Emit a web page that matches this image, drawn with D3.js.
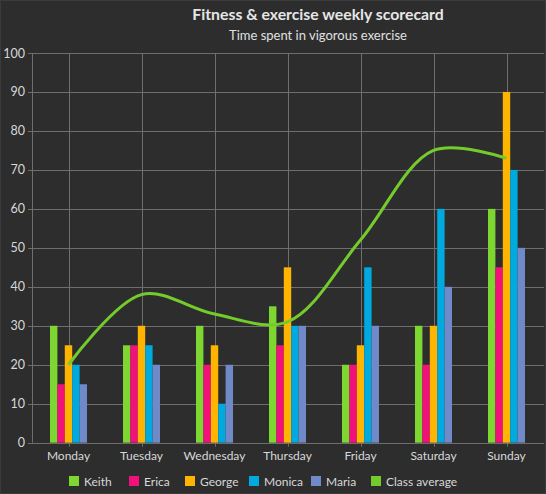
<!DOCTYPE html>
<html><head><meta charset="utf-8">
<script src="https://cdn.jsdelivr.net/npm/d3@7"></script>
<style>
html,body{margin:0;padding:0;background:#2d2d2d;}
svg{display:block;font-family:Lato,"Noto Sans",sans-serif;}
</style></head><body>
<svg id="c" width="546" height="494"></svg>
<script>
const days = ["Monday","Tuesday","Wednesday","Thursday","Friday","Saturday","Sunday"];
const seriesNames = ["Keith","Erica","George","Monica","Maria"];
const keith  = [30,25,30,35,20,30,60];
const erica  = [15,25,20,25,20,20,45];
const george = [25,30,25,45,25,30,90];
const monica = [20,25,10,30,45,60,70];
const maria  = [15,20,20,30,30,40,50];
const classAverage = [20,38,33,31,52,75,73];
const yTicks = [0,10,20,30,40,50,60,70,80,90,100];
const colors = ["#7ed631","#f2117b","#ffb400","#00a9de","#7089c9"];
const lineColor = "#74cb2c";
const seriesValues = [keith, erica, george, monica, maria];

(function(){
const svg = d3.select("#c");
svg.append("rect").attr("x",0.5).attr("y",0.5).attr("width",545).attr("height",493)
  .attr("fill","#2d2d2d").attr("stroke","#3b3b3b");

const pL = 32, pR = 543, pT = 53, pB = 442.7;
const x = d3.scaleBand().domain(days).range([pL,pR]);
const y = d3.scaleLinear().domain([0,100]).range([pB,pT]);
const inner = d3.scaleBand().domain(seriesNames).range([-18.5,18.5]);
const cx = d => x(d)+x.bandwidth()/2;

// gridlines
const g = svg.append("g");
g.selectAll(".hg").data(yTicks).join("line")
  .attr("x1",pL-4).attr("x2",pR+1)
  .attr("y1",d=>Math.round(y(d))+0.5).attr("y2",d=>Math.round(y(d))+0.5)
  .attr("stroke","#6e6e6e").attr("stroke-width",1);
g.selectAll(".vg").data(days).join("line")
  .attr("x1",d=>Math.round(cx(d))+0.5).attr("x2",d=>Math.round(cx(d))+0.5)
  .attr("y1",pT).attr("y2",pB+4)
  .attr("stroke","#6e6e6e").attr("stroke-width",1);
g.append("line").attr("x1",pL+0.5).attr("x2",pL+0.5).attr("y1",pT).attr("y2",pB)
  .attr("stroke","#6e6e6e");

// y labels
svg.selectAll(".yl").data(yTicks).join("text")
  .attr("x",25).attr("y",d=>y(d)+4.5).attr("text-anchor","end")
  .attr("font-size",12.5).attr("fill","#d8d8d8").text(d=>d);

// x labels
svg.selectAll(".xl").data(days).join("text")
  .attr("x",d=>cx(d)).attr("y",460).attr("text-anchor","middle")
  .attr("font-size",12).attr("fill","#d8d8d8").text(d=>d);

// bars
seriesNames.forEach((name,i)=>{
  svg.append("g").selectAll("rect").data(seriesValues[i]).join("rect")
    .attr("x",(d,j)=>cx(days[j])+inner(name))
    .attr("width",inner.bandwidth())
    .attr("y",d=>y(d)).attr("height",d=>y(0)-y(d))
    .attr("fill",colors[i]);
});

// class average line
const line = d3.line()
  .x((d,j)=>cx(days[j]))
  .y(d=>y(d))
  .curve(d3.curveCatmullRom.alpha(0.5));
svg.append("path").datum(classAverage).attr("d",line)
  .attr("fill","none").attr("stroke",lineColor).attr("stroke-width",3);

// titles
svg.append("text").attr("x",318).attr("y",20).attr("text-anchor","middle")
  .attr("font-size",15.8).attr("font-weight","bold").attr("fill","#e6e6e6")
  .text("Fitness & exercise weekly scorecard");
svg.append("text").attr("x",318).attr("y",40).attr("text-anchor","middle")
  .attr("font-size",13).attr("fill","#e0e0e0")
  .text("Time spent in vigorous exercise");

// legend
const legendItems = seriesNames.map((n,i)=>({name:n,color:colors[i]})).concat([{name:"Class average",color:lineColor}]);
const legendX = [69,129,185,249,311,371];
const lg = svg.append("g");
legendItems.forEach((it,i)=>{
  lg.append("rect").attr("x",legendX[i]).attr("y",476).attr("width",10).attr("height",10).attr("fill",it.color);
  lg.append("text").attr("x",legendX[i]+15).attr("y",485.5).attr("font-size",12)
    .attr("fill","#d8d8d8").text(it.name);
});
})();
</script>
</body></html>
